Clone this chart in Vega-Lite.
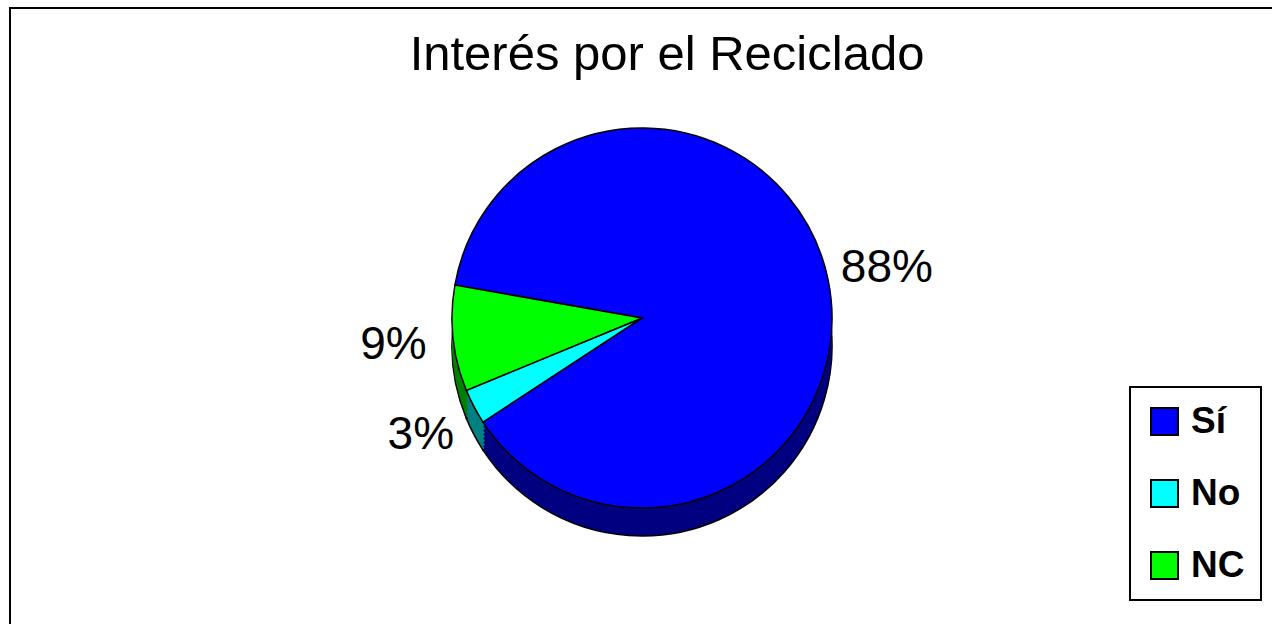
{
  "$schema": "https://vega.github.io/schema/vega-lite/v6.json",
  "width": 1264,
  "height": 620,
  "autosize": {"type": "none"},
  "padding": {"left": 10, "top": 8, "right": 0, "bottom": 0},
  "background": "white",
  "view": {"stroke": "black", "strokeWidth": 2},
  "title": {
    "text": "Interés por el Reciclado",
    "font": "Liberation Sans",
    "fontSize": 49,
    "fontWeight": "normal",
    "color": "black",
    "anchor": "middle",
    "frame": "group",
    "offset": -111,
    "baseline": "alphabetic",
    "dx": 25
  },
  "data": {
    "values": [
      {"respuesta": "Sí", "valor": 0.88},
      {"respuesta": "No", "valor": 0.03},
      {"respuesta": "NC", "valor": 0.09}
    ]
  },
  "encoding": {
    "theta": {"field": "valor", "type": "quantitative", "stack": true, "scale": {"range": [-1.3963, 4.8869]}},
    "order": {"field": "respuesta", "type": "ordinal", "sort": "descending"}
  },
  "layer": [
    {
      "mark": {"type": "arc", "outerRadius": 190, "yOffset": 28, "stroke": "black", "strokeWidth": 1.5},
      "encoding": {"fill": {"field": "respuesta", "type": "nominal", "scale": {"domain": ["NC", "No", "Sí"], "range": ["#008000", "#008080", "#000080"]}, "legend": null}}
    },
    {
      "mark": {"type": "arc", "outerRadius": 190, "yOffset": 24},
      "encoding": {"fill": {"field": "respuesta", "type": "nominal", "legend": null}}
    },
    {
      "mark": {"type": "arc", "outerRadius": 190, "yOffset": 20},
      "encoding": {"fill": {"field": "respuesta", "type": "nominal", "legend": null}}
    },
    {
      "mark": {"type": "arc", "outerRadius": 190, "yOffset": 16},
      "encoding": {"fill": {"field": "respuesta", "type": "nominal", "legend": null}}
    },
    {
      "mark": {"type": "arc", "outerRadius": 190, "yOffset": 12},
      "encoding": {"fill": {"field": "respuesta", "type": "nominal", "legend": null}}
    },
    {
      "mark": {"type": "arc", "outerRadius": 190, "yOffset": 8},
      "encoding": {"fill": {"field": "respuesta", "type": "nominal", "legend": null}}
    },
    {
      "mark": {"type": "arc", "outerRadius": 190, "yOffset": 4},
      "encoding": {"fill": {"field": "respuesta", "type": "nominal", "legend": null}}
    },
    {
      "mark": {"type": "arc", "outerRadius": 190, "stroke": "black", "strokeWidth": 1.5},
      "encoding": {
        "color": {
          "field": "respuesta",
          "type": "nominal",
          "scale": {"domain": ["Sí", "No", "NC"], "range": ["#0000FF", "#00FFFF", "#00FF00"]},
          "legend": {
            "title": null,
            "orient": "none",
            "legendX": 1120,
            "legendY": 379,
            "symbolType": "square",
            "symbolSize": 729,
            "symbolStrokeColor": "black",
            "symbolStrokeWidth": 2,
            "symbolOpacity": 1,
            "labelFont": "Liberation Sans",
            "labelFontSize": 37,
            "labelFontWeight": "bold",
            "labelColor": "black",
            "labelOffset": 8,
            "rowPadding": 34,
            "padding": 16,
            "strokeColor": "black",
            "fillColor": "white",
            "encode": {"legend": {"update": {"strokeWidth": {"value": 2}}}}
          }
        }
      }
    },
    {
      "mark": {"type": "text", "radius": 250, "font": "Liberation Sans", "fontSize": 46, "color": "black"},
      "encoding": {"text": {"field": "valor", "type": "quantitative", "format": ".0%"}}
    }
  ]
}
